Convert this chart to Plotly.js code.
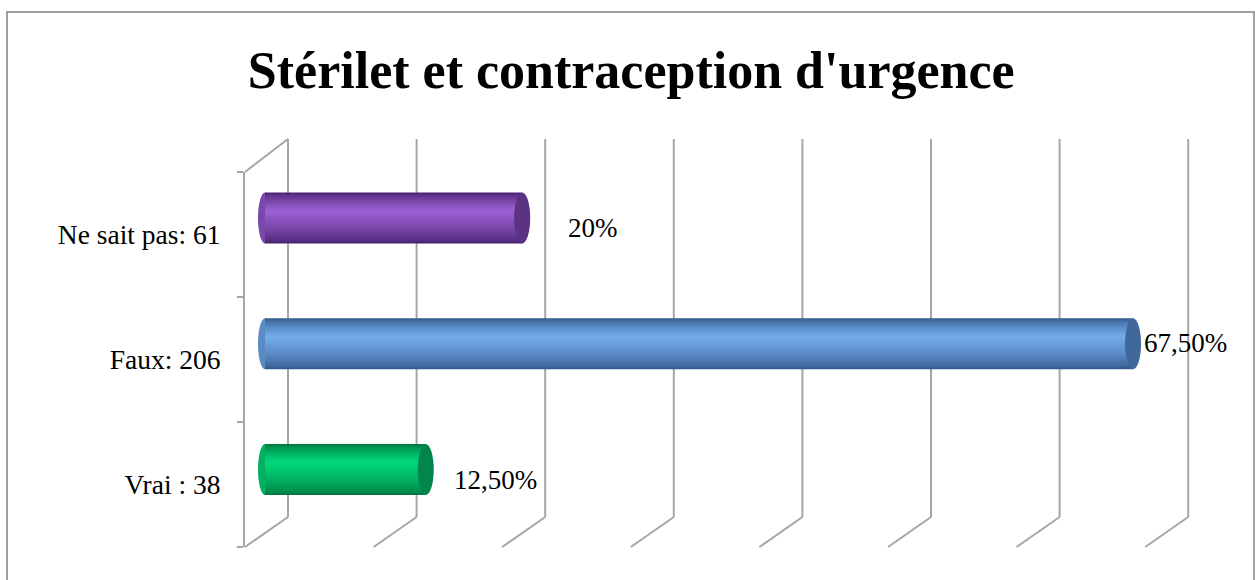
<!DOCTYPE html>
<html>
<head>
<meta charset="utf-8">
<script src="https://cdn.plot.ly/plotly-3.0.1.min.js"></script>
<style>html,body{margin:0;padding:0;background:#fff;}#chart{width:1255px;height:580px;}</style>
</head>
<body>
<div id="chart"></div>
<script>
// ---- data ----
const categories = ['Vrai : 38', 'Faux: 206', 'Ne sait pas: 61'];
const percentValues = [12.5, 67.5, 20];
const valueLabels = ['12,50%', '67,50%', '20%'];
const gridValues = [0, 10, 20, 30, 40, 50, 60, 70];
const titleText = "Stérilet et contraception d'urgence";

// ---- styles ----
const W = 1255, H = 580;
const px = v => v / W;
const py = v => 1 - v / H;
const darkColors  = ['#007a42', '#355c8e', '#4a2470'];
const lightColors = ['#00d678', '#72aaea', '#9a5fd0'];
const capColors   = ['#00854a', '#40689b', '#5a3383'];
const labelShift  = [[26, -10], [9, 1], [44, -10]];
const barWidth = 0.405;
const gridColor = '#a6a6a6';
const fontFam = 'Liberation Serif, Times New Roman, serif';
const S = 12.86;             // px per percent
const LO = -5, HI = 72;      // padded axis range so end caps and diagonals are not clipped
function dom(zeroPx){ return [px(zeroPx + LO * S), px(zeroPx + HI * S)]; }

function hexToRgb(h){ return [1,3,5].map(i => parseInt(h.slice(i, i+2), 16)); }
function mix(a, b, t){
  const A = hexToRgb(a), B = hexToRgb(b);
  return 'rgb(' + A.map((v, i) => Math.round(v + (B[i] - v) * t)).join(',') + ')';
}

const idx = categories.map((c, i) => i);
const traces = [];
const N = 16;
for (let k = 0; k < N; k++) {
  const f = 1 - k / N;
  const w = barWidth * f;
  const shift = barWidth * 0.14 * (1 - f);
  const t = Math.pow(k / (N - 1), 0.7);
  traces.push({
    type: 'bar', orientation: 'h', xaxis: 'x', yaxis: 'y',
    x: percentValues, y: idx,
    width: idx.map(() => w),
    offset: idx.map(() => shift - w / 2),
    marker: { color: idx.map(i => mix(darkColors[i], lightColors[i], t)), line: { width: 0 } },
    hoverinfo: 'skip', showlegend: false
  });
}
// invisible trace for the front category axis
traces.push({
  type: 'scatter', mode: 'markers', xaxis: 'x3', yaxis: 'y3',
  x: categories.map(() => 0), y: categories,
  marker: { opacity: 0 }, hoverinfo: 'skip', showlegend: false
});

const shapes = [];
// frame
shapes.push({ type: 'rect', xref: 'paper', yref: 'paper', x0: px(7), x1: px(1254), y0: -0.2, y1: py(12),
  line: { color: '#a0a0a0', width: 2 }, layer: 'below' });
// back wall verticals and floor diagonals
gridValues.forEach(v => {
  shapes.push({ type: 'line', xref: 'x2', yref: 'paper', x0: v, x1: v, y0: py(139), y1: py(517),
    line: { color: gridColor, width: 2 }, layer: 'below' });
  shapes.push({ type: 'line', xref: 'x2', yref: 'paper', xsizemode: 'pixel', xanchor: v, x0: 0, x1: -43,
    y0: py(517), y1: py(547), line: { color: gridColor, width: 2 }, layer: 'below' });
});
// left wall top edge
shapes.push({ type: 'line', xref: 'x2', yref: 'paper', xsizemode: 'pixel', xanchor: gridValues[0], x0: 0, x1: -43,
  y0: py(139), y1: py(172), line: { color: gridColor, width: 2 }, layer: 'below' });
// cylinder ends
idx.forEach(i => {
  shapes.push({ type: 'circle', xref: 'x', yref: 'y', xsizemode: 'pixel', ysizemode: 'pixel',
    xanchor: 0, yanchor: i, x0: -7, x1: 7, y0: -25.5, y1: 25.5,
    fillcolor: mix(darkColors[i], lightColors[i], 0.6), line: { width: 0 }, layer: 'below' });
  shapes.push({ type: 'circle', xref: 'x', yref: 'y', xsizemode: 'pixel', ysizemode: 'pixel',
    xanchor: percentValues[i], yanchor: i, x0: -8, x1: 8, y0: -25.5, y1: 25.5,
    fillcolor: capColors[i], line: { width: 0 }, layer: 'above' });
});

const annotations = idx.map(i => ({
  xref: 'x', yref: 'y', x: percentValues[i], y: i,
  text: valueLabels[i], showarrow: false, xanchor: 'left', yanchor: 'middle',
  xshift: labelShift[i][0], yshift: labelShift[i][1],
  font: { family: fontFam, size: 27, color: '#000' }
}));

const layout = {
  width: W, height: H,
  margin: { l: 0, r: 0, t: 0, b: 0 },
  paper_bgcolor: '#fff', plot_bgcolor: 'rgba(0,0,0,0)',
  barmode: 'overlay',
  showlegend: false,
  title: { text: titleText, x: 0.503, xanchor: 'center', y: py(70), yanchor: 'middle', yref: 'paper',
    font: { family: fontFam, size: 52, weight: 'bold', color: '#000' } },
  xaxis: { domain: dom(265), range: [LO, HI], anchor: 'y', visible: false, fixedrange: true },
  yaxis: { domain: [py(532.4), py(155.1)], range: [-0.5, 2.5], anchor: 'x', visible: false, fixedrange: true },
  xaxis2: { domain: dom(288), range: [LO, HI], anchor: 'y2', visible: false },
  yaxis2: { domain: [py(517), py(139)], range: [0, 1], anchor: 'x2', visible: false },
  xaxis3: { domain: [px(245), px(1144)], range: [0, 70], anchor: 'y3', visible: false },
  yaxis3: { domain: [py(547), py(172)], type: 'category', categoryorder: 'array', categoryarray: categories,
    range: [-0.5, 2.5], anchor: 'x3', side: 'left',
    showline: true, linecolor: gridColor, linewidth: 2,
    ticks: 'outside', tickson: 'boundaries', ticklen: 6, tickwidth: 2, tickcolor: gridColor,
    ticklabelstandoff: 17, showgrid: false, zeroline: false,
    tickfont: { family: fontFam, size: 27.5, color: '#000' } },
  shapes: shapes,
  annotations: annotations
};

Plotly.newPlot('chart', traces, layout, { displayModeBar: false, staticPlot: true });
</script>
</body>
</html>
